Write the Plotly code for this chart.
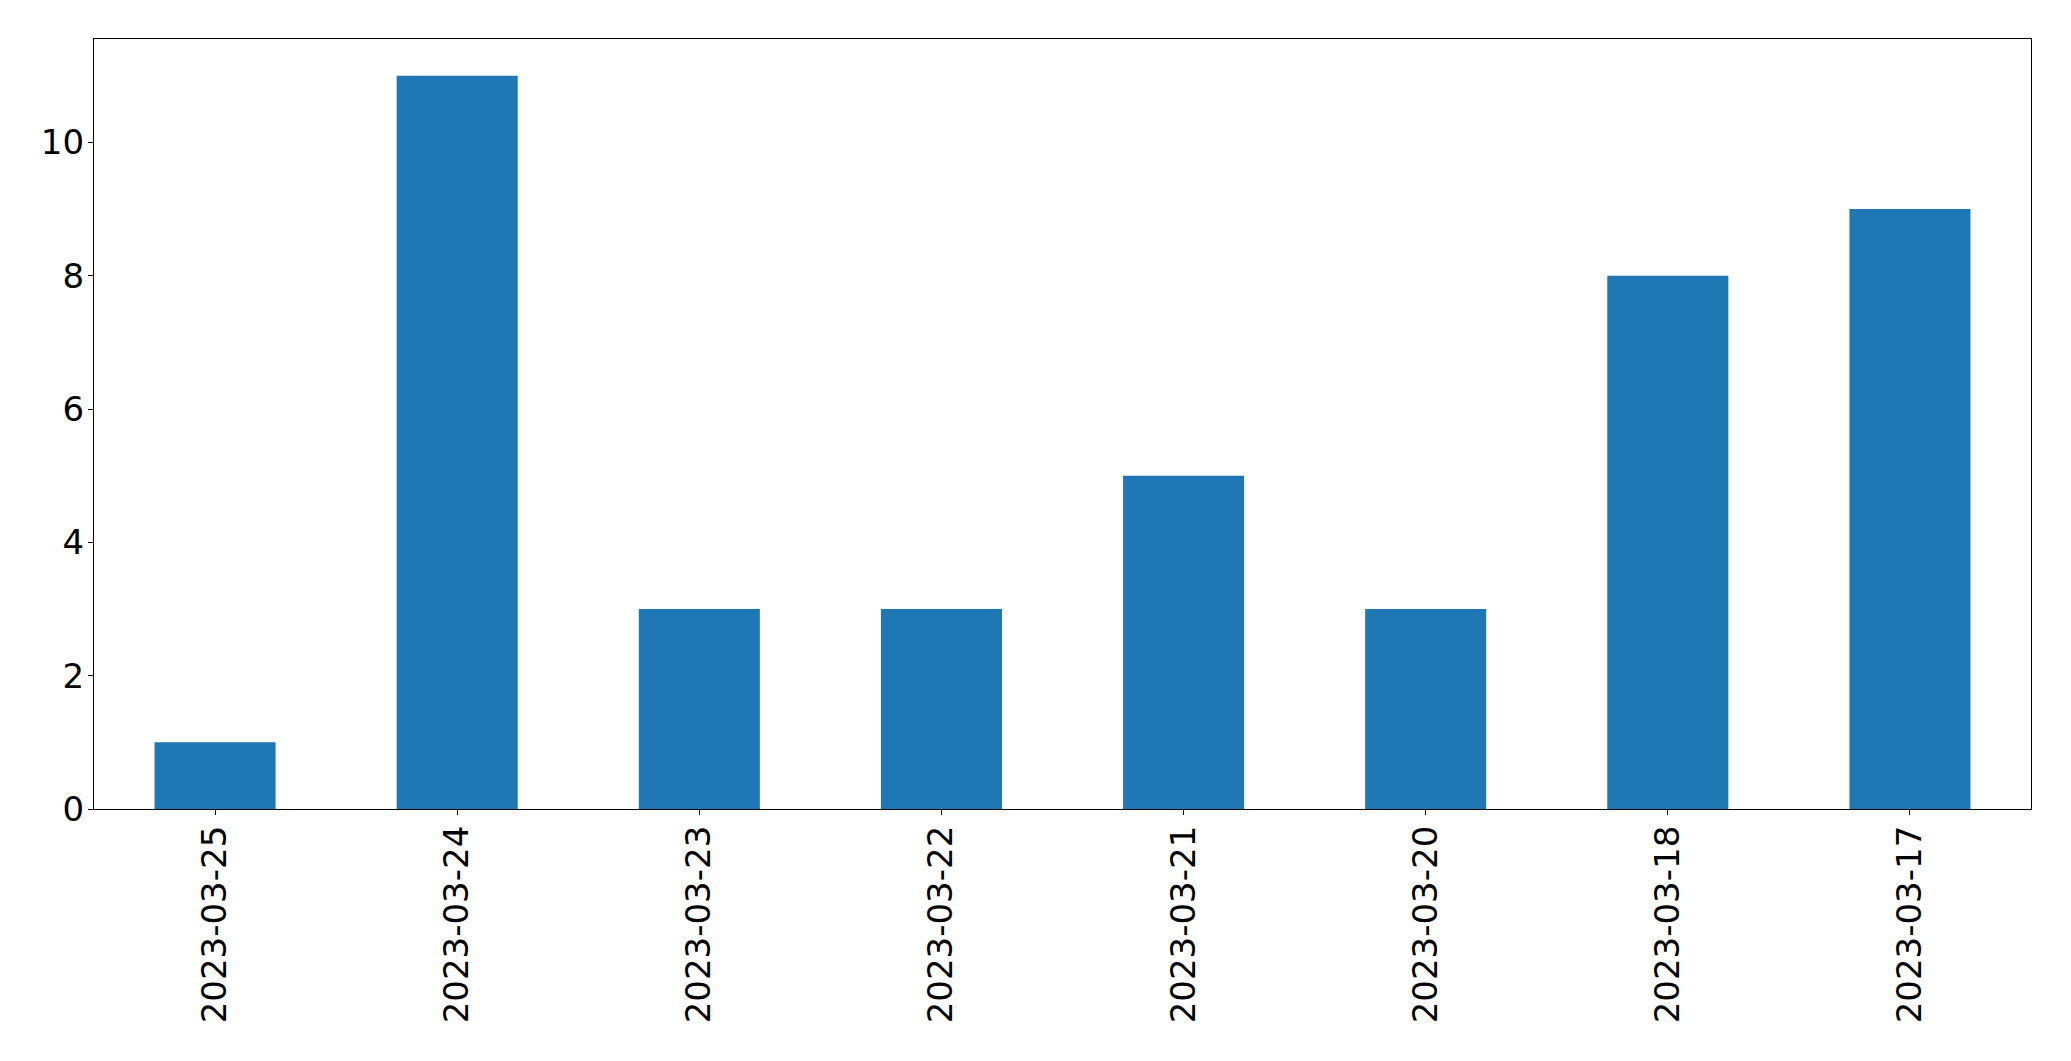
import plotly.graph_objects as go

dates = ["2023-03-25", "2023-03-24", "2023-03-23", "2023-03-22",
         "2023-03-21", "2023-03-20", "2023-03-18", "2023-03-17"]
counts = [1, 11, 3, 3, 5, 3, 8, 9]

fig = go.Figure(go.Bar(x=dates, y=counts, width=0.5, marker=dict(color="#1f77b4", line=dict(width=0))))

axis_common = dict(showline=True, linecolor="black", linewidth=1.3, mirror=True,
                   ticks="outside", ticklen=5, tickwidth=1.3, tickcolor="black",
                   showgrid=False, zeroline=False,
                   tickfont=dict(family="DejaVu Sans", size=34, color="black"))

fig.update_layout(
    width=2071, height=1061,
    margin=dict(l=86, r=48, t=31, b=260),
    plot_bgcolor="white", paper_bgcolor="white",
    showlegend=False,
    xaxis=dict(type="category", range=[-0.5, 7.5], tickangle=-90, ticklabelstandoff=-3, **axis_common),
    yaxis=dict(range=[0, 11.55], tickvals=[0, 2, 4, 6, 8, 10], ticklabelstandoff=-3, **axis_common),
)

fig.write_html("out.html")
